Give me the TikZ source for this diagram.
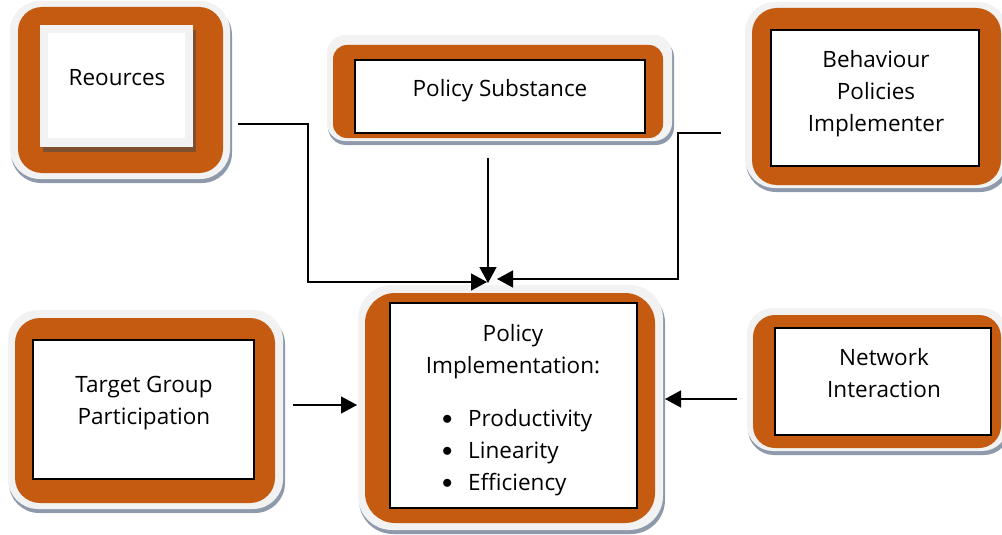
\documentclass[tikz,border=0pt]{standalone}
\usepackage{fontspec}
\setmainfont{Open Sans}
\usetikzlibrary{arrows.meta}
\definecolor{orng}{HTML}{C55A11}
\definecolor{rimc}{HTML}{F2F2F2}
\definecolor{shdc}{HTML}{8E9AAB}
\definecolor{brnc}{HTML}{7F5030}
\newcommand{\bul}{\makebox[25pt][l]{\hspace{-1pt}\raisebox{1.5pt}{$\bullet$}}}
\tikzset{
  inbox/.style={draw=black, line width=1.6pt, fill=white, inner sep=0pt},
  lbl/.style={font=\fontsize{22.5}{32}\selectfont, align=center, anchor=base, inner sep=0pt},
  conn/.style={draw=black, line width=1.4pt, -{Triangle[length=16pt,width=17pt]}},
}
\begin{document}
\begin{tikzpicture}[x=1pt,y=-1pt]
\useasboundingbox (0,0) rectangle (1002,535);
\clip (0,0) rectangle (1002,535);
\foreach \xa/\ya/\xb/\yb/\xc/\yc/\xd/\yd/\ra/\rb in {
  10/1/230/179/18/7/223/173/30/24,
  327/35/672/141/333/45/663/138/18/14,
  745/2/1008/188/752/8/1001/185/30/25,
  358/285/663/530/365/293/655/523/34/30,
  8/310/283/509/15/318/275/503/30/25,
  747/308/1008/451/753/315/1001/448/26/22}{
  \fill[shdc, rounded corners=\ra pt] (\xa+1,\ya+4) rectangle (\xb+2,\yb+4);
  \fill[rimc, rounded corners=\ra pt] (\xa,\ya) rectangle (\xb,\yb);
  \fill[orng, rounded corners=\rb pt] (\xc,\yc) rectangle (\xd,\yd);
}
% Resources inner box
\fill[brnc] (43,30) rectangle (196,152);
\fill[rimc] (40,25) rectangle (193,147);
\node[inbox, draw=none, minimum width=137pt, minimum height=105pt] (res) at (116.5,85.5) {};
% other inner boxes
\node[inbox, minimum width=290pt, minimum height=73pt] (ps) at (500,96.5) {};
\node[inbox, minimum width=208pt, minimum height=136pt] (bpi) at (875,98) {};
\node[inbox, minimum width=247pt, minimum height=205pt] (pi) at (513.5,405.5) {};
\node[inbox, minimum width=221pt, minimum height=139pt] (tgp) at (143.5,409.5) {};
\node[inbox, minimum width=216pt, minimum height=107pt] (ni) at (883,381.5) {};
% labels (anchor base = baseline of last line)
\node[lbl] (resl) at (117,86) {Reources};
\node[lbl] (psl) at (500,96) {Policy Substance};
\node[lbl] (bpil) at (876,131.5) {Behaviour\\Policies\\Implementer};
\node[lbl] (pil) at (513,373) {Policy\\Implementation:};
\node[lbl, anchor=base west, align=left] (pib) at (443,490)
  {\bul Productivity\\\bul Linearity\\\bul Efficiency};
\node[lbl] (tgpl) at (144,424) {Target Group\\Participation};
\node[lbl] (nil) at (884,397) {Network\\Interaction};
% connector endpoints
\coordinate (r0) at (238,124);
\coordinate (ps0) at (488,158);
\coordinate (b0) at (721,133);
\coordinate (t0) at (293,405);
\coordinate (n0) at (737,399);
\coordinate (in1) at (487,282);
\coordinate (in2) at (488,283);
\coordinate (in3) at (497,279);
\coordinate (in4) at (357,405);
\coordinate (in5) at (665,399);
% connectors
\draw[conn] (r0) -- (308,124) -- (308,282) -- (in1);
\draw[conn] (ps0) -- (in2);
\draw[conn] (b0) -- (678,133) -- (678,279) -- (in3);
\draw[conn] (t0) -- (in4);
\draw[conn] (n0) -- (in5);
\end{tikzpicture}
\end{document}
